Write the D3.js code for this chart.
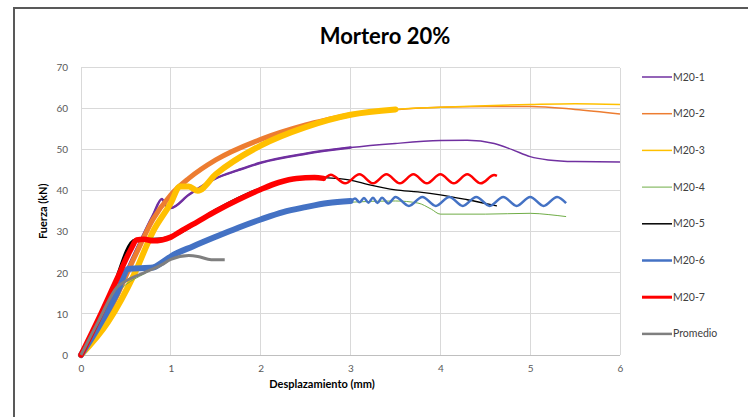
<!DOCTYPE html>
<html>
<head>
<meta charset="utf-8">
<script src="https://cdn.jsdelivr.net/npm/d3@7"></script>
<style>
  html, body { margin: 0; padding: 0; background: #fff; }
  svg { display: block; }
  text { font-family: Lato, "Open Sans", sans-serif; }
</style>
</head>
<body>
<svg id="chart" width="748" height="417"></svg>
<script>
// ---------------- DATA ----------------
const chartTitle = "Mortero 20%";
const xTitle = "Desplazamiento (mm)";
const yTitle = "Fuerza (kN)";
const xTicks = [0, 1, 2, 3, 4, 5, 6];
const yTicks = [0, 10, 20, 30, 40, 50, 60, 70];
const seriesNames = ["M20-1", "M20-2", "M20-3", "M20-4", "M20-5", "M20-6", "M20-7", "Promedio"];

const m20_1 = [[0,0],[0.3,11],[0.6,25],[0.8,34],[0.9,38],[0.95,36.2],[1.0,35.8],[1.2,39],[1.5,43],[1.75,45],[2.0,46.8],[2.5,49],[3.0,50.5],[3.5,51.5],[4.0,52.2],[4.3,52.3],[4.6,51.5],[4.8,50],[5.0,48.3],[5.2,47.5],[5.5,47.1],[6.0,47]];
const m20_2 = [[0,0],[0.3,10],[0.6,24],[0.8,33],[1.0,39],[1.2,43],[1.5,47.5],[2.0,52.5],[2.5,56],[3.0,58.5],[3.5,59.7],[4.0,60.3],[4.5,60.5],[5.0,60.5],[5.5,59.8],[6.0,58.7]];
const m20_3 = [[0,0],[0.3,8],[0.6,20],[0.8,30],[1.0,37],[1.1,41],[1.2,41],[1.3,40],[1.5,44],[2.0,51],[2.5,55.5],[3.0,58.5],[3.5,59.8],[4.0,60.3],[4.5,60.7],[5.0,61],[5.5,61.2],[6.0,61]];
const m20_4 = [[0,0],[0.4,15],[0.8,21],[1.0,24],[1.5,29],[2.0,33],[2.5,35.8],[3.0,37.2],[3.5,37.5],[3.75,37],[3.9,35.5],[4.0,34.3],[4.5,34.3],[5.0,34.5],[5.2,34.2],[5.4,33.7]];
const m20_5 = [[0,0],[0.3,13],[0.6,28],[0.9,28.3],[1.0,28.8],[1.5,35.3],[2.0,40.5],[2.3,42.5],[2.5,43.3],[2.7,43.2],[3.0,42.6],[3.2,41.5],[3.5,40.2],[3.75,39.7],[4.0,39],[4.3,37.8],[4.63,36.3]];
const m20_6 = [[0,0],[0.2,7],[0.4,15],[0.53,21],[0.8,21.3],[0.9,22.5],[1.0,24],[1.25,26.5],[1.5,28.8],[1.75,31],[2.0,33],[2.25,34.8],[2.5,36],[2.75,37],[3.0,37.5],
  [3.05,38.1],[3.1,37.2],[3.15,38.2],[3.2,37.1],[3.25,38.3],[3.3,37.0],[3.35,38.3],[3.42,36.9],[3.5,38.5],[3.65,36.3],[3.8,38.5],[3.95,36.3],[4.1,38.5],[4.25,36.3],[4.4,38.5],[4.55,36.3],[4.7,38.5],[4.85,36.3],[5.0,38.5],[5.15,36.3],[5.3,38.5],[5.4,37.0]];
const m20_7 = [[0,0],[0.2,9],[0.4,18.5],[0.55,25.5],[0.62,28],[0.7,28.2],[0.8,27.8],[0.9,28],[1.0,28.7],[1.1,30],[1.3,32.5],[1.5,35],[1.75,37.8],[2.0,40.3],[2.2,42],[2.4,43],[2.6,43.2],[2.7,43],
  [2.78,43.9],[2.94,41.8],[3.1,44],[3.25,41.8],[3.4,44],[3.55,41.8],[3.7,44],[3.85,41.8],[4.0,44],[4.15,41.8],[4.3,44],[4.45,41.8],[4.6,43.8],[4.63,43.6]];
const promedio = [[0,0],[0.2,8.5],[0.4,16.5],[0.5,18],[0.7,20],[0.9,22],[1.0,23.3],[1.2,24.2],[1.3,24],[1.45,23.2],[1.6,23.2]];
const seriesData = [m20_1, m20_2, m20_3, m20_4, m20_5, m20_6, m20_7, promedio];

// ---------------- STYLE ----------------
const colors = ["#7030A0", "#ED7D31", "#FFC000", "#70AD47", "#000000", "#4472C4", "#FF0000", "#7F7F7F"];
const widths = [1.5, 1.5, 1.5, 1, 1.3, 2.5, 2.5, 3];
const bandWidths = [2.5, 5, 6, 0, 3, 6, 5.5, 0];
const bandUntil = [3.0, 3.3, 3.6, 0, 2.7, 3.0, 2.7, 0];
const legendWidths = [1.5, 1.5, 1.5, 1, 1.5, 2.5, 3, 2.5];

const svg = d3.select("#chart");
svg.append("rect").attr("width", 748).attr("height", 417).attr("fill", "#fff");
svg.append("rect").attr("x", 14).attr("y", 8).attr("width", 800).attr("height", 500)
  .attr("fill", "none").attr("stroke", "#595959").attr("stroke-width", 2);

const x = d3.scaleLinear().domain([0, 6]).range([81, 620]);
const y = d3.scaleLinear().domain([0, 70]).range([355, 67.5]);

// grid
svg.append("g").selectAll("line").data(yTicks).join("line")
  .attr("x1", x(0)).attr("x2", x(6)).attr("y1", d => y(d)).attr("y2", d => y(d))
  .attr("stroke", d => d === 0 ? "#bfbfbf" : "#d9d9d9").attr("stroke-width", 1).attr("shape-rendering", "crispEdges");
svg.append("g").selectAll("line").data(xTicks).join("line")
  .attr("x1", d => x(d)).attr("x2", d => x(d)).attr("y1", y(0)).attr("y2", y(70))
  .attr("stroke", "#d9d9d9").attr("stroke-width", 1).attr("shape-rendering", "crispEdges");

// axes labels
const yAxis = d3.axisLeft(y).tickValues(yTicks).tickFormat(d3.format("d")).tickSize(0).tickPadding(13);
const gy = svg.append("g").attr("transform", `translate(${x(0)},0)`).call(yAxis);
gy.select(".domain").remove();
gy.selectAll("text").attr("fill", "#595959").style("font-size", "10px").style("font-family", "Lato, sans-serif");

const xAxis = d3.axisBottom(x).tickValues(xTicks).tickFormat(d3.format("d")).tickSize(0).tickPadding(10);
const gx = svg.append("g").attr("transform", `translate(0,${y(0)})`).call(xAxis);
gx.select(".domain").remove();
gx.selectAll("text").attr("fill", "#595959").style("font-size", "10px").style("font-family", "Lato, sans-serif");

// lines
const line = d3.line().x(d => x(d[0])).y(d => y(d[1])).curve(d3.curveMonotoneX);
const gl = svg.append("g");
seriesData.forEach((data, i) => {
  if (bandWidths[i] > 0) {
    gl.append("path").datum(data.filter(d => d[0] <= bandUntil[i]))
      .attr("d", line).attr("fill", "none").attr("stroke", colors[i])
      .attr("stroke-width", bandWidths[i]).attr("stroke-linejoin", "round").attr("stroke-linecap", "round");
  }
  gl.append("path").datum(data).attr("d", line).attr("fill", "none")
    .attr("stroke", colors[i]).attr("stroke-width", widths[i]).attr("stroke-linejoin", "round");
});

// titles
svg.append("text").attr("x", 385).attr("y", 44).attr("text-anchor", "middle")
  .style("font-size", "22px").style("font-weight", "bold").attr("fill", "#000").text(chartTitle);
svg.append("text").attr("x", 322).attr("y", 388).attr("text-anchor", "middle")
  .style("font-size", "11px").style("font-weight", "bold").attr("fill", "#000").text(xTitle);
svg.append("text").attr("transform", `translate(47,${(y(0) + y(70)) / 2}) rotate(-90)`).attr("text-anchor", "middle")
  .style("font-size", "11px").style("font-weight", "bold").attr("fill", "#000").text(yTitle);

// legend
const lg = svg.append("g");
seriesNames.forEach((name, i) => {
  const ly = 77 + i * 36.7;
  lg.append("line").attr("x1", 642).attr("x2", 672).attr("y1", ly).attr("y2", ly)
    .attr("stroke", colors[i]).attr("stroke-width", legendWidths[i]);
  lg.append("text").attr("x", 673).attr("y", ly + 3.5).style("font-size", "10.5px")
    .attr("fill", "#404040").text(name);
});
</script>
</body>
</html>
